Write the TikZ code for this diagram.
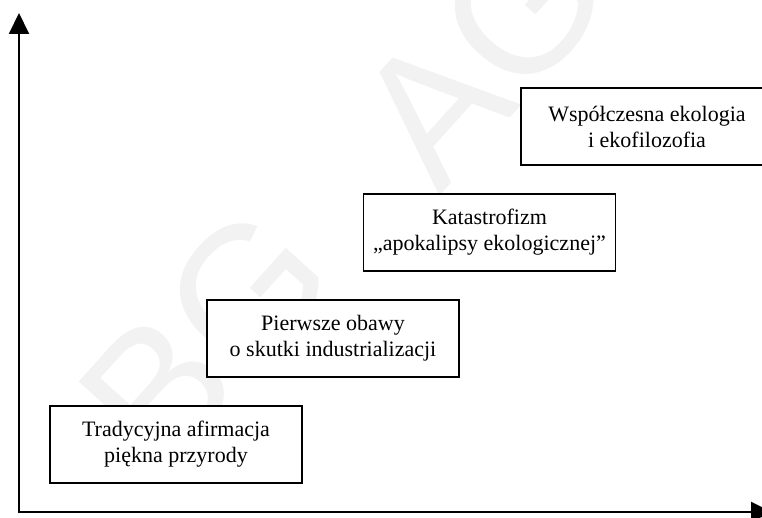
\documentclass[tikz,border=0pt]{standalone}
\usepackage{fontspec}
\setmainfont{Liberation Serif}
\newfontfamily\wmfont{Liberation Sans}
\usetikzlibrary{arrows.meta}
\begin{document}
\begin{tikzpicture}[x=1pt,y=1pt,
  stage/.style={draw=black, line width=1.3pt, fill=white, minimum width=252pt,
    minimum height=77pt, inner sep=0pt, align=center,
    font=\fontsize{22}{26}\selectfont},
  axis/.style={line width=2pt,
    {Triangle[length=21pt,width=20pt]}-{Triangle[length=21pt,width=20pt]}},
  wm/.style={text=black!5, font=\wmfont\fontsize{185}{185}\selectfont,
    rotate=48, inner sep=0pt}]
\useasboundingbox (0,0) rectangle (762,517);
\clip (0,0) rectangle (762,517);
\node[wm] (wm1) at (206,180) {BG};
\node[wm] (wm2) at (526,512) {AGH};
\coordinate (top) at (19,504);
\coordinate (origin) at (19,5);
\coordinate (right) at (772,5);
\draw[axis] (top) -- (origin) -- (right);
\node[stage] (s1) at (176,72.5) {Tradycyjna afirmacja\\piękna przyrody};
\node[stage] (s2) at (333,178.5) {Pierwsze obawy\\o skutki industrializacji};
\node[stage] (s3) at (489.5,284.5) {Katastrofizm\\„apokalipsy ekologicznej”};
\node[stage] (s4) at (647,390.5) {Współczesna ekologia\\i ekofilozofia};
\end{tikzpicture}
\end{document}
